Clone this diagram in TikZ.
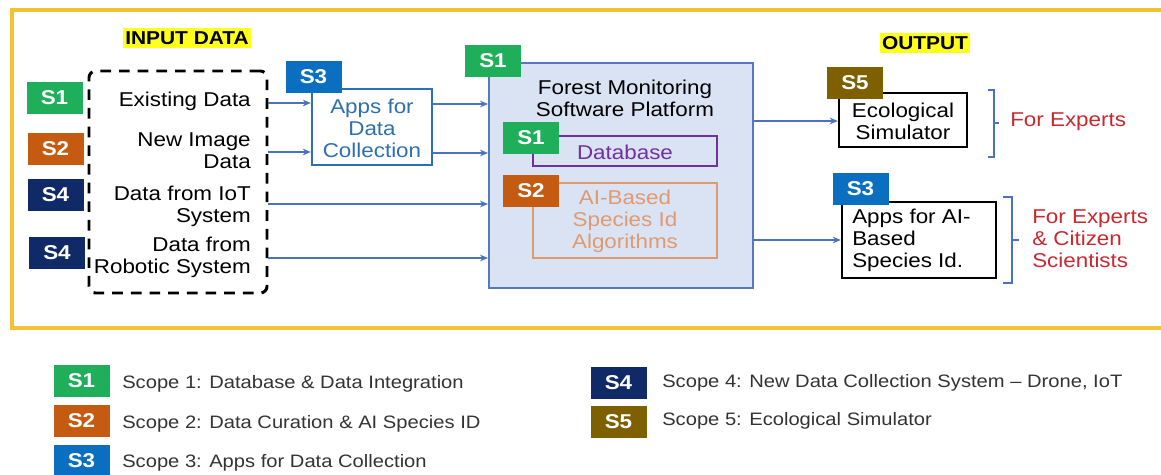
\documentclass[tikz,border=0pt]{standalone}
\usepackage{fontspec}
\setmainfont[FakeStretch=1.12]{Liberation Sans}
\usetikzlibrary{arrows.meta,fit}

\definecolor{sgreen}{HTML}{1FAF5A}
\definecolor{sorange}{HTML}{C55A11}
\definecolor{sblue}{HTML}{0A6FC0}
\definecolor{snavy}{HTML}{102A68}
\definecolor{sbrown}{HTML}{7F6000}
\definecolor{frameyellow}{HTML}{F2C230}
\definecolor{hilite}{HTML}{FFFF1A}
\definecolor{flow}{HTML}{4A72BF}
\definecolor{platfill}{HTML}{DAE3F3}
\definecolor{platline}{HTML}{5578BE}
\definecolor{appblue}{HTML}{2E6FB2}
\definecolor{dbpurple}{HTML}{7030A0}
\definecolor{aiorange}{HTML}{E09A70}
\definecolor{expred}{HTML}{C8282D}
\definecolor{keygray}{HTML}{333333}

\tikzset{
  badge/.style={fill=#1, text=white, font=\bfseries\fontsize{15pt}{15pt}\selectfont,
    minimum width=42pt, minimum height=24pt, inner sep=0pt},
  lbl/.style={font=\fontsize{15pt}{16.5pt}\selectfont, align=center, inner sep=0pt},
  keytext/.style={font=\fontsize{13.5pt}{15pt}\selectfont, text=keygray, anchor=west, inner sep=0pt},
  heading/.style={fill=hilite, font=\bfseries\fontsize{14pt}{14pt}\selectfont,
    inner xsep=1.5pt, inner ysep=2.5pt},
  boxed/.style={inner sep=0pt, line width=1.8pt},
  arr/.style={draw=flow, line width=1.1pt, -{Stealth[length=6pt,width=5pt]}},
  brk/.style={draw=flow, line width=1.1pt},
}

\begin{document}
\begin{tikzpicture}[x=0.75pt,y=-0.75pt]
\useasboundingbox (0,0) rectangle (1161,475);

% outer frame (open on the right)
\draw[frameyellow, line width=2.4pt] (1161,10) -- (12,10) -- (12,328) -- (1161,328);

% headings
\node[heading] (inhead) at (187,38) {INPUT DATA};
\node[heading] (outhead) at (925,43) {OUTPUT};

% input data group
\node[fit={(89,71)(267,293)}, inner sep=0pt, draw=black, line width=2.2pt,
      dash pattern=on 8pt off 6pt, rounded corners=5pt] (inbox) {};
\node[lbl, anchor=east, align=right] (in1) at (251,101) {Existing Data};
\node[lbl, anchor=east, align=right] (in2) at (251,151) {New Image\\Data};
\node[lbl, anchor=east, align=right] (in3) at (251,206) {Data from IoT\\System};
\node[lbl, anchor=east, align=right] (in4) at (251,257.5) {Data from\\Robotic System};

\node[badge=sgreen] (bi1) at (54.5,98) {S1};
\node[badge=sorange] (bi2) at (55.5,148.5) {S2};
\node[badge=snavy] (bi3) at (55.5,194.5) {S4};
\node[badge=snavy] (bi4) at (57,253) {S4};

% data collection apps
\node[fit={(312,89)(432,165)}, boxed, draw=appblue] (apps) {};
\node[lbl, text=appblue] (appstxt) at (372,128) {Apps for\\Data\\Collection};
\node[badge=sblue] (bapps) at (313.5,77) {S3};

% software platform
\node[fit={(489,63)(753,288)}, boxed, line width=1.5pt, draw=platline, fill=platfill] (plat) {};
\node[lbl] (ptitle) at (625,98) {Forest Monitoring\\Software Platform};
\node[fit={(533,136)(717,166)}, boxed, draw=dbpurple] (db) {};
\node[lbl, text=dbpurple] (dbtxt) at (625,152) {Database};
\node[fit={(533,183)(717,258)}, boxed, line width=1.5pt, draw=aiorange] (ai) {};
\node[lbl, text=aiorange] (aitxt) at (625,221) {AI-Based\\Species Id\\Algorithms};
\node[badge=sgreen] (bplat) at (493,60.5) {S1};
\node[badge=sgreen] (bdb) at (531,138) {S1};
\node[badge=sorange] (bai) at (531,190.5) {S2};

% outputs
\node[fit={(839,93)(967,147)}, boxed, draw=black] (eco) {};
\node[lbl] (ecotxt) at (903,121) {Ecological\\Simulator};
\node[badge=sbrown] (beco) at (855,83) {S5};
\node[fit={(842,202)(996,278)}, boxed, draw=black] (aiapp) {};
\node[lbl, anchor=west, align=left] (aiapptxt) at (852,240) {Apps for AI-\\Based\\Species Id.};
\node[badge=sblue] (baiapp) at (860.5,189) {S3};

% audiences
\draw[brk] (988,90) -- (994,90) -- (994,157) -- (988,157);
\draw[brk] (994,123) -- (999,123);
\node[lbl, anchor=west, text=expred] (aud1) at (1010,122) {For Experts};
\draw[brk] (1003,197) -- (1012,197) -- (1012,283) -- (1003,283);
\draw[brk] (1012,240) -- (1019,240);
\node[lbl, anchor=west, align=left, text=expred] (aud2) at (1032,239)
  {For Experts\\\& Citizen\\Scientists};

% flow levels
\coordinate (ya) at (0,103);
\coordinate (yb) at (0,152);
\coordinate (yc) at (0,204);
\coordinate (yd) at (0,258);
\coordinate (ye) at (0,104);
\coordinate (yf) at (0,153);
\coordinate (yg) at (0,121);
\coordinate (yh) at (0,240);

\draw[arr] (inbox.east |- ya) -- (apps.west |- ya);
\draw[arr] (inbox.east |- yb) -- (apps.west |- yb);
\draw[arr] (inbox.east |- yc) -- (plat.west |- yc);
\draw[arr] (inbox.east |- yd) -- (plat.west |- yd);
\draw[arr] (apps.east |- ye) -- (plat.west |- ye);
\draw[arr] (apps.east |- yf) -- (plat.west |- yf);
\draw[arr] (plat.east |- yg) -- (eco.west |- yg);
\draw[arr] (plat.east |- yh) -- (aiapp.west |- yh);

% key
\node[badge=sgreen] (k1) at (81.5,381) {S1};
\node[badge=sorange] (k2) at (81.5,421) {S2};
\node[badge=sblue] (k3) at (81.5,461) {S3};
\node[badge=snavy] (k4) at (618.5,382.5) {S4};
\node[badge=sbrown] (k5) at (618.5,421.5) {S5};
\node[keytext] (kt1) at (122,384) {Scope 1: Database \& Data Integration};
\node[keytext] (kt2) at (122,424) {Scope 2: Data Curation \& AI Species ID};
\node[keytext] (kt3) at (122,463) {Scope 3: Apps for Data Collection};
\node[keytext] (kt4) at (662,383) {Scope 4: New Data Collection System – Drone, IoT};
\node[keytext] (kt5) at (662,421) {Scope 5: Ecological Simulator};
\end{tikzpicture}
\end{document}
